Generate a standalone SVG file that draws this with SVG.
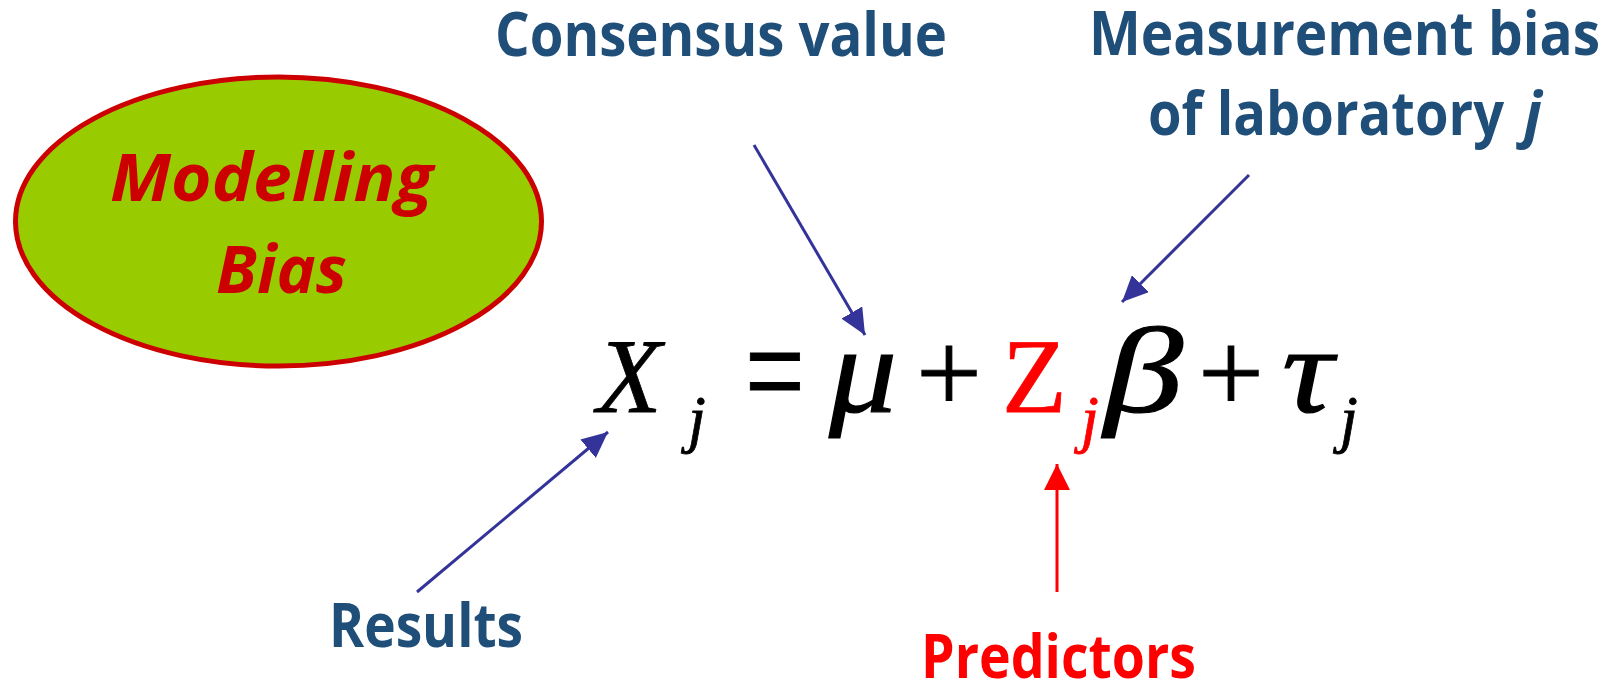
<svg xmlns="http://www.w3.org/2000/svg" width="1609" height="683" viewBox="0 0 1609 683">
<style>
.lbl{font-family:"Open Sans","Liberation Sans",sans-serif;font-weight:700;font-size:60px;fill:#1F4E79}
.red{fill:#FF0000}
.eq{font-family:"Liberation Serif","Times New Roman",serif;font-size:106px;fill:#000}
.eq text{stroke:#000;stroke-width:0.8}
.eq text.red{stroke:#FF0000}
.it{font-style:italic}
.eq text.gk{font-style:italic;font-size:122px;stroke-width:1.2}
.sub{font-size:64px}
.pl{font-size:117px}
.mb{font-family:"Open Sans","Liberation Sans",sans-serif;font-weight:700;font-style:italic;font-size:67px;fill:#CC0000}
.blue{stroke:#333399;stroke-width:3;fill:none}
.redl{stroke:#FF0000;stroke-width:3;fill:none}
</style>
<defs>
<marker id="ab" markerUnits="userSpaceOnUse" markerWidth="26" markerHeight="24" refX="26" refY="12" orient="auto" viewBox="0 0 26 24"><path d="M0,0 L26,12 L0,24 z" fill="#333399"/></marker>
<marker id="ar" markerUnits="userSpaceOnUse" markerWidth="26" markerHeight="26" refX="26" refY="13" orient="auto" viewBox="0 0 26 26"><path d="M0,0 L26,13 L0,26 z" fill="#FF0000"/></marker>
</defs>
<rect width="1609" height="683" fill="#fff"/>
<g id="modelling-bias">
<ellipse cx="278.5" cy="221.5" rx="263" ry="144.5" fill="#99CC00" stroke="#CC0000" stroke-width="5"/>
<text class="mb" x="110" y="201" textLength="323" lengthAdjust="spacingAndGlyphs">Modelling</text>
<text class="mb" x="216" y="293" textLength="131" lengthAdjust="spacingAndGlyphs">Bias</text>
</g>
<g id="consensus">
<text class="lbl" x="495" y="56" textLength="452" lengthAdjust="spacingAndGlyphs">Consensus value</text>
</g>
<g id="measurement-bias">
<text class="lbl" x="1089" y="55" textLength="511" lengthAdjust="spacingAndGlyphs">Measurement bias</text>
<text class="lbl" x="1148" y="135" textLength="356" lengthAdjust="spacingAndGlyphs">of laboratory</text>
<text class="lbl it" x="1524" y="135">j</text>
</g>
<g id="results">
<text class="lbl" x="329" y="647" textLength="194" lengthAdjust="spacingAndGlyphs">Results</text>
</g>
<g id="predictors">
<text class="lbl red" x="921" y="678" textLength="275" lengthAdjust="spacingAndGlyphs">Predictors</text>
</g>
<g id="equation" class="eq">
<text class="it" x="597" y="412">X</text>
<text class="it sub" x="688" y="440">j</text>
<text transform="translate(745,421) scale(1,1.4)">=</text>
<text class="gk" x="829" y="412" textLength="68" lengthAdjust="spacingAndGlyphs">μ</text>
<text class="pl" x="916" y="412">+</text>
<text class="red" x="1002" y="412">Z</text>
<text class="it sub red" x="1081" y="440">j</text>
<text class="gk" x="1104" y="412" textLength="79" lengthAdjust="spacingAndGlyphs">β</text>
<text class="pl" x="1198" y="412">+</text>
<text class="gk" x="1282" y="412" textLength="51" lengthAdjust="spacingAndGlyphs">τ</text>
<text class="it sub" x="1340" y="440">j</text>
</g>
<g id="connectors">
<line class="blue" x1="754" y1="145" x2="865" y2="335" marker-end="url(#ab)"/>
<line class="blue" x1="1249" y1="175" x2="1122" y2="302" marker-end="url(#ab)"/>
<line class="blue" x1="417" y1="592" x2="608" y2="432" marker-end="url(#ab)"/>
<line class="redl" x1="1057" y1="592" x2="1057" y2="464" marker-end="url(#ar)"/>
</g>
</svg>
